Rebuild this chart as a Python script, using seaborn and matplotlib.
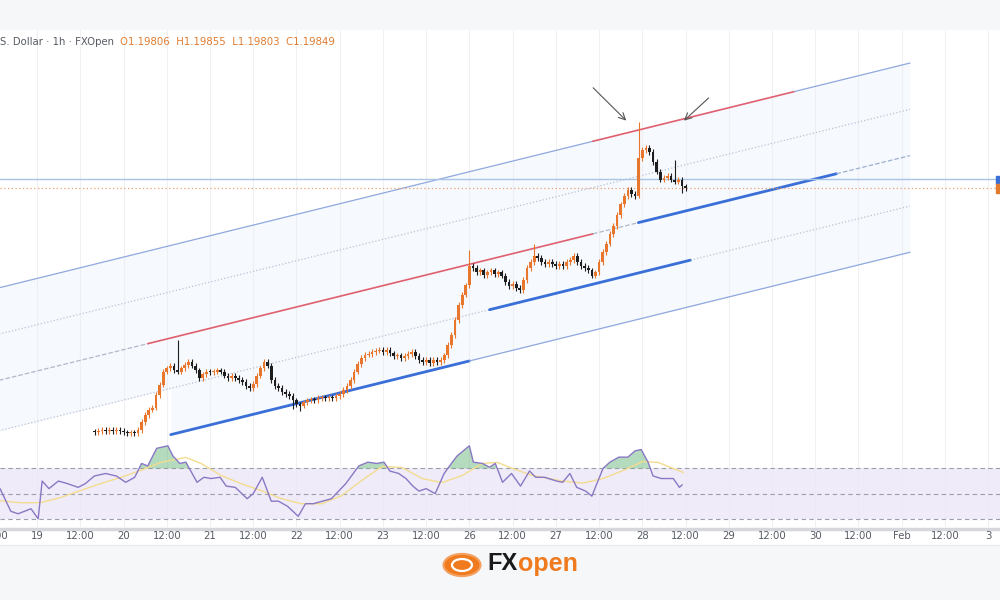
import numpy as np
import pandas as pd
import matplotlib
matplotlib.use("Agg")
import matplotlib.pyplot as plt
import seaborn as sns
from matplotlib.patches import Circle, Rectangle

sns.set_theme(style="white")
plt.rcParams['font.family'] = ['DejaVu Sans']

# ---------------- data ----------------
first_hour = 16  # trading-hour index of first candle (hours since 19 Jan 00:00, weekend removed)
closes = [1.1626, 1.1628, 1.1629, 1.1628, 1.1629, 1.1628, 1.1629, 1.1628, 1.1626, 1.1625,
          1.1626, 1.1625, 1.1629, 1.1641, 1.1651, 1.1659, 1.1662, 1.1681, 1.1696, 1.1715,
          1.1720, 1.1724, 1.1717, 1.1715, 1.1720, 1.1725, 1.1729, 1.1724, 1.1717, 1.1706,
          1.1711, 1.1715, 1.1714, 1.1715, 1.1717, 1.1715, 1.1709, 1.1706, 1.1709, 1.1706,
          1.1703, 1.1700, 1.1694, 1.1691, 1.1697, 1.1709, 1.1720, 1.1729, 1.1724, 1.1703,
          1.1694, 1.1691, 1.1685, 1.1682, 1.1679, 1.1673, 1.1667, 1.1665, 1.1670, 1.1673,
          1.1674, 1.1673, 1.1676, 1.1677, 1.1676, 1.1677, 1.1676, 1.1679, 1.1682, 1.1688,
          1.1694, 1.1703, 1.1715, 1.1726, 1.1735, 1.1740, 1.1741, 1.1744, 1.1746, 1.1747,
          1.1744, 1.1747, 1.1742, 1.1738, 1.1739, 1.1735, 1.1738, 1.1741, 1.1744, 1.1738,
          1.1732, 1.1729, 1.1732, 1.1728, 1.1732, 1.1729, 1.1732, 1.1739, 1.1754, 1.1769,
          1.1791, 1.1813, 1.1828, 1.1842, 1.1870, 1.1867, 1.1861, 1.1864, 1.1857, 1.1861,
          1.1864, 1.1858, 1.1861, 1.1856, 1.1847, 1.1841, 1.1844, 1.1838, 1.1835, 1.1850,
          1.1867, 1.1876, 1.1885, 1.1882, 1.1876, 1.1873, 1.1876, 1.1873, 1.1870, 1.1873,
          1.1870, 1.1876, 1.1879, 1.1885, 1.1876, 1.1870, 1.1867, 1.1864, 1.1856, 1.1861,
          1.1876, 1.1891, 1.1903, 1.1917, 1.1929, 1.1945, 1.1961, 1.1973, 1.1982, 1.1976,
          1.1973, 1.2029, 1.2041, 1.2044, 1.2038, 1.2023, 1.2009, 1.1997, 1.2000, 1.2003,
          1.1997, 1.1994, 1.1997, 1.1988, 1.1985]
first_open = 1.1627
wick = 0.0004
spike_highs = {23: 1.1762, 104: 1.1894, 122: 1.1903, 151: 1.2082, 161: 1.2026, 164: 1.1990}
spike_lows = {55: 1.1660, 57: 1.1657, 151: 1.1970, 163: 1.1978}

channel_slope = 0.0001306
channel_base = [1.1852, 1.1784, 1.1716, 1.1642, 1.1574]
channel_segments = [
    (0, -11, 154.3, "#8fa8dd", 0.9, "-"), (0, 154.3, 210.2, "#e06070", 1.2, "-"), (0, 210.2, 242.3, "#8fa8dd", 0.9, "-"),
    (1, -11, 242.3, "#b9c2d6", 0.9, ":"),
    (2, -11, 30.7, "#b0b8c8", 0.9, "--"), (2, 30.7, 154.3, "#e06070", 1.2, "-"),
    (2, 154.3, 166.9, "#b0b8c8", 0.9, "--"), (2, 166.9, 221.9, "#3a6fd8", 2.0, "-"), (2, 221.9, 242.3, "#9fb0d0", 0.9, "--"),
    (3, -11, 125.6, "#b9c2d6", 0.9, ":"), (3, 125.6, 181.4, "#3a6fd8", 2.0, "-"), (3, 181.4, 242.3, "#b9c2d6", 0.9, ":"),
    (4, 37.1, 120.0, "#3a6fd8", 2.0, "-"), (4, 120.0, 242.3, "#8fa8dd", 0.9, "-"),
]
hline_blue = 1.1998
hline_price = 1.1985
arrows = [((153.8, 1.2135), (164.1, 1.2081)), ((187.0, 1.2120), (179.0, 1.2081))]

rsi_t = [-10.3, -7.3, -5.3, -1.7, 0.3, 1.4, 3.3, 5.9, 8.4, 11.4, 13.4, 15.9, 19, 22, 24.6, 27.1, 29, 30.7,
         33.2, 36.3, 37.7, 39.6, 41.3, 44.4, 46.3, 48.3, 50.8, 52.5, 55, 58.3, 60, 62.5, 65, 67, 69.5, 72.5,
         74.5, 76.7, 79.2, 81.7, 85.7, 89.3, 91.8, 94.3, 96.3, 97.9, 100.4, 102.4, 104.3, 106, 108, 110.5,
         113, 115, 116.6, 120, 121.1, 123.6, 125.6, 127.2, 129.2, 131.7, 134.2, 136.7, 138.4, 140.9, 144.2,
         145.9, 147.9, 149.8, 152.3, 154, 155.4, 157.1, 159, 161.5, 164, 166, 167.7, 169.6, 171, 173.3,
         176.6, 178.3, 179.1]
rsi_v = [54, 36, 34, 38, 30, 60, 54, 60, 58, 55, 58, 64, 66, 64, 59, 63, 74, 72, 86, 88, 80, 74, 75,
         59, 63, 62, 63, 56, 55, 46, 50, 63, 44, 44, 40, 32, 42, 42, 44, 46, 58, 72, 75, 74, 75, 68, 66,
         62, 56, 52, 54, 50, 66, 74, 80, 88, 75, 74, 71, 74, 59, 66, 56, 68, 63, 63, 60, 59, 66, 55, 52,
         48, 58, 70, 75, 79, 79, 84, 85, 75, 64, 62, 62, 55, 57]
ma_t = [-10.3, -4.7, 0.8, 6.4, 12, 17.6, 23.2, 28.7, 34.3, 41.3, 45.5, 51.1, 56.6, 62.2, 67.8, 73.4, 79,
        84.5, 90.1, 95.7, 101.3, 106.9, 112.4, 118, 123.6, 127.8, 132, 137.5, 145.9, 151.5, 157.1, 162.7,
        168.2, 172.4, 176.6, 179.4]
ma_v = [44.4, 42.8, 42.8, 46.8, 52.4, 58, 62.8, 68.4, 74.8, 78.8, 74, 64.4, 58, 52.4, 46, 42, 42, 48.4,
        60.4, 71.6, 70.8, 62, 58.8, 64.4, 74, 74.8, 70, 64.4, 60, 58.4, 62, 68.4, 75.6, 74.8, 70, 66.8]

tick_hours = list(range(-12, 276, 12))
tick_labels = ["12:00", "19", "12:00", "20", "12:00", "21", "12:00", "22", "12:00", "23", "12:00",
               "26", "12:00", "27", "12:00", "28", "12:00", "29", "12:00", "30", "12:00", "Feb", "12:00", "3"]

header_grey = "S. Dollar · 1h · FXOpen  "
header_orange = "O1.19806  H1.19855  L1.19803  C1.19849"

# ---------------- figure ----------------
UP, DOWN = "#e8762c", "#1e1e1e"
fig = plt.figure(figsize=(10, 6), dpi=100)
fig.patch.set_facecolor("white")
fig.add_artist(Rectangle((0, 1 - 30 / 600), 1, 30 / 600, transform=fig.transFigure, color="#f6f7f9", zorder=0))
fig.add_artist(Rectangle((0, 0), 1, 55 / 600, transform=fig.transFigure, color="#f6f7f9", zorder=0))

XMIN, XMAX = -10.3, 267.3
ax = fig.add_axes([0, 1 - 437 / 600, 1.0, 407 / 600])
ax.set_xlim(XMIN, XMAX)
ax.set_ylim(1.1619, 1.2217)
for s in ax.spines.values():
    s.set_visible(False)
ax.set_xticks([]); ax.set_yticks([])
for h in tick_hours:
    ax.axvline(h, color="#eef0f4", lw=0.8, zorder=0)

xx = np.linspace(-11, 242.3, 50)
ax.fill_between(xx, channel_base[3] + channel_slope * xx, channel_base[0] + channel_slope * xx,
                color="#eaf1fb", alpha=0.4, zorder=0.5, lw=0)
xx2 = np.linspace(37.1, 242.3, 50)
ax.fill_between(xx2, channel_base[4] + channel_slope * xx2, channel_base[3] + channel_slope * xx2,
                color="#eaf1fb", alpha=0.4, zorder=0.5, lw=0)
for li, t0, t1, c, w, ls in channel_segments:
    ax.plot([t0, t1], [channel_base[li] + channel_slope * t0, channel_base[li] + channel_slope * t1],
            color=c, lw=w, ls=ls, zorder=1)

ax.axhline(hline_blue, color="#a9c4e4", lw=1.0, zorder=1)
ax.axhline(hline_price, color="#e8a070", lw=0.9, ls=(0, (1, 2)), zorder=1)

n = len(closes)
hours = np.arange(n) + first_hour
opens = [first_open] + closes[:-1]
df = pd.DataFrame({"t": hours, "o": opens, "c": closes})
df["hi"] = [spike_highs.get(i, max(o, c) + wick) for i, (o, c) in enumerate(zip(opens, closes))]
df["lo"] = [spike_lows.get(i, min(o, c) - wick) for i, (o, c) in enumerate(zip(opens, closes))]
df["col"] = np.where(df["c"] >= df["o"], UP, DOWN)
ax.vlines(df["t"], df["lo"], df["hi"], colors=df["col"], lw=0.8, zorder=3)
body = (df["c"] - df["o"]).abs().clip(lower=0.00015)
ax.bar(df["t"], body, bottom=df[["o", "c"]].min(axis=1), width=0.75, color=df["col"], zorder=4, lw=0)

for (x0, y0), (x1, y1) in arrows:
    ax.annotate("", xy=(x1, y1), xytext=(x0, y0),
                arrowprops=dict(arrowstyle="->", color="#555555", lw=0.8), zorder=5)

t1 = fig.text(0.0, 1 - 42 / 600, header_grey, fontsize=7.3, color="#555a63", va="center")
fig.canvas.draw()
bb = t1.get_window_extent()
fig.text(bb.x1 / 1000, 1 - 42 / 600, header_orange, fontsize=7.3, color="#e07b30", va="center")

fig.add_artist(Rectangle((996 / 1000, 1 - 184 / 600), 4 / 1000, 8 / 600, transform=fig.transFigure, color="#3b6fd8"))
fig.add_artist(Rectangle((996 / 1000, 1 - 193 / 600), 4 / 1000, 9 / 600, transform=fig.transFigure, color="#e07b30"))

ax2 = fig.add_axes([0, 1 - 527 / 600, 1.0, 90 / 600])
ax2.set_xlim(XMIN, XMAX)
ax2.set_ylim(23.5, 95)
for s in ax2.spines.values():
    s.set_visible(False)
ax2.set_xticks([]); ax2.set_yticks([])
for h in tick_hours:
    ax2.axvline(h, color="#eef0f4", lw=0.8, zorder=0)
ax2.axhspan(30, 70, color="#ede7f8", alpha=0.8, zorder=0.5, lw=0)
for lvl in (30, 50, 70):
    ax2.axhline(lvl, color="#9aa0aa", lw=0.8, ls=(0, (4, 3)), zorder=1)
rt = np.array(rsi_t); rv = np.array(rsi_v)
ax2.fill_between(rt, 70, rv, where=rv > 70, interpolate=True, color="#5cb070", alpha=0.45, zorder=1.5, lw=0)
sns.lineplot(x=ma_t, y=ma_v, ax=ax2, color="#f3dc8f", lw=1.0, zorder=2)
sns.lineplot(x=rsi_t, y=rsi_v, ax=ax2, color="#8a78c4", lw=1.0, zorder=3)
ax2.set_xlabel(""); ax2.set_ylabel("")

fig.add_artist(plt.Line2D([0, 1], [1 - 529 / 600] * 2, transform=fig.transFigure, color="#d5d7dc", lw=2.5))
fig.add_artist(plt.Line2D([0, 1], [1 - 545 / 600] * 2, transform=fig.transFigure, color="#e8eaee", lw=0.8))

for h, lab in zip(tick_hours, tick_labels):
    xf = (h - XMIN) / (XMAX - XMIN)
    if -0.01 < xf < 1.01:
        fig.text(xf, 1 - 536 / 600, lab, fontsize=7.3, color="#555a63", ha="center", va="center")

# logo (emblem drawn as shapes)
fig.add_artist(Circle((462 / 1000, 1 - 565 / 600), 0.0185, transform=fig.transFigure, color="#f07a1e",
                      ec="#f3a060", lw=1.5))
fig.add_artist(Circle((462 / 1000, 1 - 565 / 600), 0.010, transform=fig.transFigure, fill=False,
                      ec="white", lw=1.6))
fig.text(487 / 1000, 1 - 563 / 600, "FX", fontsize=17, color="#1a1a1a", fontweight="bold", ha="left", va="center",
         family="Liberation Sans")
fig.text(518 / 1000, 1 - 564 / 600, "open", fontsize=18, color="#f07a1e", fontweight="bold", ha="left", va="center",
         family="Liberation Sans")

fig.savefig("out.png", dpi=100)
